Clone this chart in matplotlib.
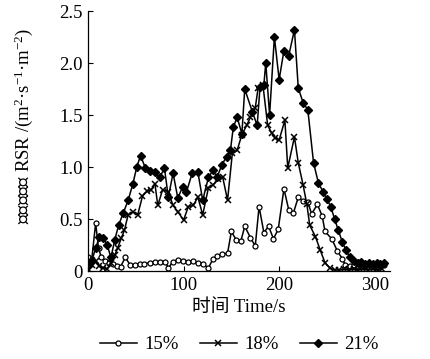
import matplotlib
matplotlib.use("Agg")
import matplotlib.pyplot as plt

# ---- data ----
x15 = [0, 4, 8, 11, 14, 18, 22, 26, 30, 34, 39, 44, 49, 54, 59, 65, 70, 75, 81, 84, 89, 94, 99, 105,
       110, 115, 120, 126, 131, 135, 140, 146, 150, 155, 160, 164, 170, 175, 179, 184, 189, 194, 199,
       205, 210, 215, 220, 225, 230, 234, 240, 245, 248, 255, 261, 266, 269, 274, 278, 282, 286, 290,
       294, 298, 302, 306, 310]
y15 = [0.13, 0.12, 0.46, 0.22, 0.13, 0.10, 0.08, 0.07, 0.05, 0.04, 0.13, 0.06, 0.06, 0.07, 0.07, 0.08,
       0.09, 0.09, 0.09, 0.03, 0.09, 0.11, 0.10, 0.09, 0.10, 0.08, 0.07, 0.03, 0.12, 0.14, 0.16, 0.17,
       0.38, 0.30, 0.29, 0.43, 0.32, 0.24, 0.62, 0.37, 0.43, 0.31, 0.40, 0.79, 0.59, 0.56, 0.71, 0.67,
       0.66, 0.55, 0.64, 0.53, 0.38, 0.31, 0.19, 0.12, 0.06, 0.05, 0.06, 0.05, 0.06, 0.05, 0.06, 0.05,
       0.06, 0.05, 0.06]

x18 = [0, 4, 8, 12, 16, 20, 24, 28, 31, 35, 38, 42, 47, 52, 57, 62, 66, 70, 73, 78, 84, 89, 94, 100,
       105, 110, 115, 120, 126, 131, 136, 141, 146, 151, 156, 161, 166, 170, 175, 178, 183, 188, 192,
       196, 200, 206, 209, 216, 220, 225, 229, 232, 238, 243, 248, 253, 258, 263, 268, 273, 278, 283,
       288, 293, 298, 303, 308]
y18 = [0.02, 0.06, 0.10, 0.05, 0.03, 0.02, 0.08, 0.15, 0.22, 0.32, 0.39, 0.54, 0.57, 0.54, 0.72, 0.77,
       0.78, 0.84, 0.63, 0.78, 0.76, 0.63, 0.57, 0.49, 0.62, 0.63, 0.71, 0.54, 0.80, 0.83, 0.88, 0.90,
       0.68, 1.13, 1.16, 1.31, 1.40, 1.48, 1.57, 1.76, 1.79, 1.40, 1.33, 1.28, 1.26, 1.45, 0.99, 1.29,
       1.04, 0.83, 0.64, 0.44, 0.33, 0.20, 0.08, 0.03, 0.01, 0.01, 0.02, 0.01, 0.02, 0.01, 0.02, 0.01,
       0.02, 0.01, 0.02]

x21 = [0, 4, 8, 12, 16, 20, 24, 28, 32, 37, 42, 47, 51, 55, 60, 65, 70, 75, 80, 84, 89, 94, 99, 103,
       109, 115, 120, 126, 131, 135, 140, 145, 149, 152, 156, 161, 164, 172, 177, 180, 184, 186, 190,
       195, 200, 205, 210, 216, 220, 225, 230, 236, 241, 246, 250, 254, 258, 262, 266, 270, 274, 278,
       282, 286, 290, 294, 298, 302, 306, 310]
y21 = [0.05, 0.10, 0.22, 0.33, 0.32, 0.25, 0.13, 0.30, 0.44, 0.56, 0.68, 0.84, 1.00, 1.11, 0.99, 0.96,
       0.95, 0.90, 0.99, 0.71, 0.94, 0.70, 0.81, 0.76, 0.94, 0.95, 0.68, 0.90, 0.97, 0.90, 1.02, 1.10,
       1.16, 1.38, 1.48, 1.32, 1.75, 1.53, 1.40, 1.77, 1.79, 2.00, 1.50, 2.25, 1.84, 2.12, 2.07, 2.32,
       1.76, 1.62, 1.55, 1.04, 0.85, 0.76, 0.69, 0.62, 0.50, 0.39, 0.28, 0.20, 0.13, 0.10, 0.08, 0.09,
       0.07, 0.08, 0.07, 0.08, 0.07, 0.08]

labels = ["15%", "18%", "21%"]
yticks = [0, 0.5, 1.0, 1.5, 2.0, 2.5]
ytick_labels = ["0", "0.5", "1.0", "1.5", "2.0", "2.5"]
xticks = [0, 100, 200, 300]

plt.rcParams['font.family'] = ['Liberation Serif', 'Noto Sans CJK SC', 'DejaVu Sans']
plt.rcParams['mathtext.fontset'] = 'custom'
plt.rcParams['mathtext.rm'] = 'Liberation Serif'
plt.rcParams['mathtext.it'] = 'Liberation Serif'

fig = plt.figure(figsize=(4.31, 3.59), dpi=100)
ax = fig.add_axes([0.2042, 0.2451, 0.7007, 0.7242])

lw = 1.1
ax.plot(x15, y15, color='black', lw=lw, marker='o', ms=3.6, mfc='white', mec='black', mew=0.9,
        label=labels[0])
ax.plot(x18, y18, color='black', lw=lw, marker='x', ms=5, mew=1.1, label=labels[1])
ax.plot(x21, y21, color='black', lw=lw, marker='D', ms=4.2, mfc='black', mec='black',
        label=labels[2])

ax.set_xlim(0, 316)
ax.set_ylim(0, 2.5)
ax.set_xticks(xticks)
ax.set_xticklabels([str(v) for v in xticks])
ax.set_yticks(yticks)
ax.set_yticklabels(ytick_labels)
ax.tick_params(direction='in', length=3.5, width=0.8, labelsize=13.5, pad=4)
for s in ['top', 'right']:
    ax.spines[s].set_visible(False)
for s in ['left', 'bottom']:
    ax.spines[s].set_linewidth(0.9)

ax.set_xlabel("时间 Time/s", fontsize=13.5, labelpad=4)
ax.set_ylabel("烟释放速率 RSR /(m$^2$·s$^{-1}$·m$^{-2}$)", fontsize=13.5)
ax.yaxis.set_label_coords(-0.175, 0.56)

fig.legend(loc='center', bbox_to_anchor=(0.555, 0.04), ncol=3, frameon=False, fontsize=13.5,
           handlelength=2.0, handletextpad=0.4, columnspacing=1.1, borderpad=0.1)

fig.savefig("out.png", dpi=100)
